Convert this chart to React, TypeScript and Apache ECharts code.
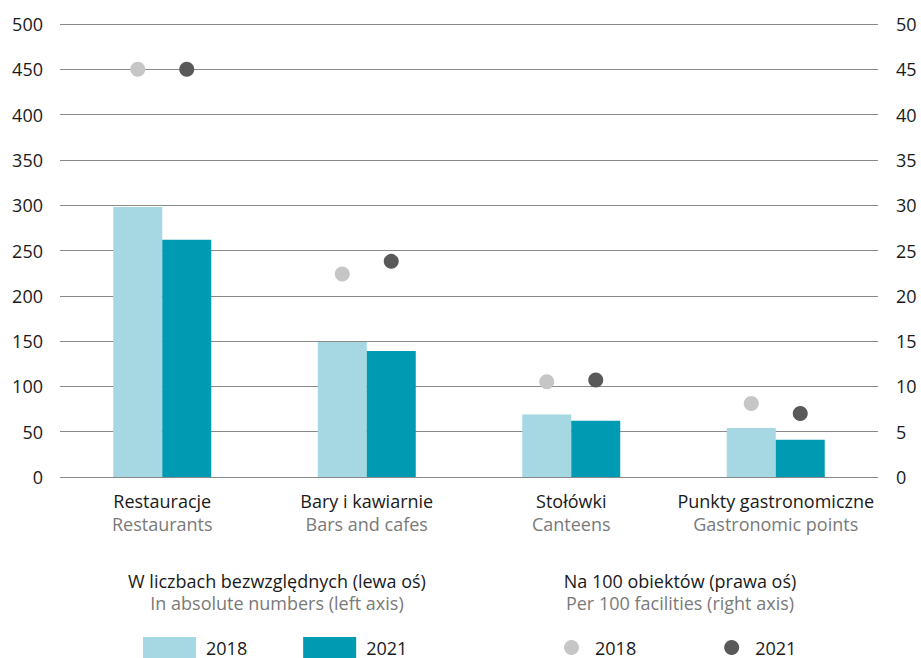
import React, { useEffect, useRef } from "react";
import * as echarts from "echarts";

const categoriesPl = ["Restauracje", "Bary i kawiarnie", "Stołówki", "Punkty gastronomiczne"];
const categoriesEn = ["Restaurants", "Bars and cafes", "Canteens", "Gastronomic points"];
const abs2018 = [298, 149, 69, 54];
const abs2021 = [262, 139, 62, 41];
const per2018 = [45, 22.4, 10.5, 8.1];
const per2021 = [45, 23.8, 10.7, 7.0];
const leftTicks = { min: 0, max: 500, interval: 50 };
const rightTicks = { min: 0, max: 50, interval: 5 };

const FONT = "Open Sans";

export default function App() {
  const ref = useRef<HTMLDivElement>(null);
  useEffect(() => {
    document.body.style.margin = "0";
    const chart = echarts.init(ref.current!, null, { renderer: "svg" });
    const gridColor = "#8a8a8a";
    const titleRich = {
      a: { fontSize: 18, fill: "#1a1a1a", fontFamily: FONT, lineHeight: 22, align: "center" },
      b: { fontSize: 18, fill: "#7a7a7a", fontFamily: FONT, lineHeight: 22, align: "center" },
    };
    chart.setOption({
      animation: false,
      textStyle: { fontFamily: FONT },
      grid: { left: 60, right: 43, top: 24, bottom: 181 },
      xAxis: {
        type: "category",
        data: categoriesPl.map((c, i) => c + "\n" + categoriesEn[i]),
        axisLine: { show: false },
        axisTick: { show: false },
        axisLabel: {
          margin: 12,
          interval: 0,
          formatter: (v: string) => {
            const [a, b] = v.split("\n");
            return "{a|" + a + "}\n{b|" + b + "}";
          },
          rich: {
            a: { fontSize: 18, color: "#1a1a1a", fontFamily: FONT, lineHeight: 23 },
            b: { fontSize: 18, color: "#7a7a7a", fontFamily: FONT, lineHeight: 23 },
          },
        },
      },
      yAxis: [
        {
          type: "value",
          ...leftTicks,
          axisLine: { show: false },
          axisTick: { show: false },
          splitLine: { lineStyle: { color: gridColor, width: 1 } },
          axisLabel: { fontSize: 18, color: "#1a1a1a", margin: 17, fontFamily: FONT },
        },
        {
          type: "value",
          ...rightTicks,
          axisLine: { show: false },
          axisTick: { show: false },
          splitLine: { show: false },
          axisLabel: { fontSize: 18, color: "#1a1a1a", margin: 18, fontFamily: FONT },
        },
      ],
      legend: [
        {
          left: 143,
          top: 637,
          padding: 0,
          icon: "rect",
          itemWidth: 53,
          itemHeight: 21,
          itemGap: 56,
          data: ["2018", "2021"],
          textStyle: { fontSize: 18, lineHeight: 18, color: "#1a1a1a", fontFamily: FONT, padding: [0, 0, 0, 5] },
        },
        {
          left: 564,
          top: 638.5,
          padding: 0,
          icon: "circle",
          itemWidth: 15,
          itemHeight: 15,
          itemGap: 88,
          data: ["2018 per 100", "2021 per 100"],
          formatter: (n: string) => n.split(" ")[0],
          textStyle: { fontSize: 18, lineHeight: 18, color: "#1a1a1a", fontFamily: FONT, padding: [0, 0, 0, 11] },
        },
      ],
      series: [
        {
          name: "2018",
          type: "bar",
          data: abs2018,
          barWidth: 49,
          barGap: "0%",
          itemStyle: { color: "#a5d8e2" },
        },
        {
          name: "2021",
          type: "bar",
          data: abs2021,
          barWidth: 49,
          barGap: "0%",
          itemStyle: { color: "#009bb2" },
        },
        {
          name: "2018 per 100",
          type: "scatter",
          yAxisIndex: 1,
          data: per2018,
          symbolSize: 15,
          symbolOffset: [-24.5, 0],
          itemStyle: { color: "#c6c6c6", opacity: 1 },
          z: 5,
        },
        {
          name: "2021 per 100",
          type: "scatter",
          yAxisIndex: 1,
          data: per2021,
          symbolSize: 15,
          symbolOffset: [24.5, 0],
          itemStyle: { color: "#595959", opacity: 1 },
          z: 5,
        },
      ],
      graphic: [
        {
          type: "text",
          x: 277,
          y: 570,
          style: {
            text: "{a|W liczbach bezwzględnych (lewa oś)}\n{b|In absolute numbers (left axis)}",
            align: "center",
            rich: titleRich,
          },
        },
        {
          type: "text",
          x: 680,
          y: 570,
          style: {
            text: "{a|Na 100 obiektów (prawa oś)}\n{b|Per 100 facilities (right axis)}",
            align: "center",
            rich: titleRich,
          },
        },
      ],
    });
    return () => chart.dispose();
  }, []);
  return <div ref={ref} style={{ width: 921, height: 658 }} />;
}
